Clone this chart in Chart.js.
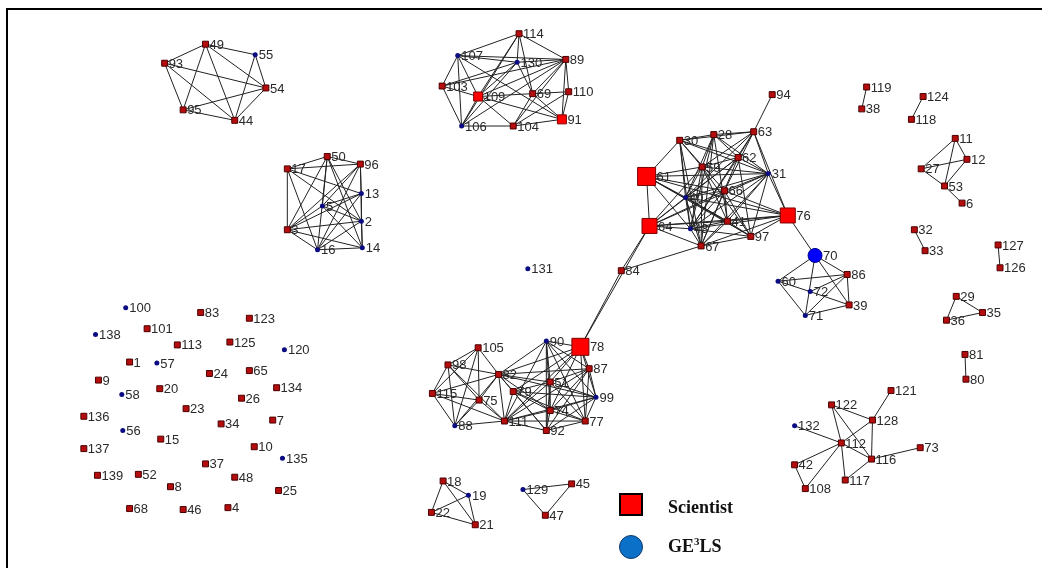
<!DOCTYPE html>
<html>
<head>
<meta charset="utf-8">
<script src="https://cdn.jsdelivr.net/npm/chart.js@4.4.1/dist/chart.umd.min.js"></script>
<style>
  body { margin: 0; background: #fff; width: 1042px; height: 568px; overflow: hidden; position: relative; }
  #frame { position: absolute; left: 6px; top: 8px; width: 1050px; height: 570px; border: 2px solid #000; }
  #net { position: absolute; left: 0; top: 0; }
  .key { position: absolute; left: 668px; font: bold 18px "Liberation Serif", serif; color: #111; }
  .sw { position: absolute; left: 619px; width: 20px; height: 19px; }
</style>
</head>
<body>
<div id="frame"></div>
<canvas id="net" width="1042" height="568"></canvas>
<div class="sw" style="top:493px;background:#ff0000;border:2px solid #000;"></div>
<div class="key" style="top:497px;">Scientist</div>
<div class="sw" style="top:535px;border-radius:50%;background:#0a70c8;border:1px solid #123a6a;width:22px;height:22px;"></div>
<div class="key" style="top:535px;">GE<sup style="font-size:11px">3</sup>LS</div>
<script>
/* ---------- NODES (id, layout x, layout y) ---------- */
const nodeIds = [
  49, 55, 93, 54, 95, 44,
  50, 96, 17, 13, 5, 2, 3, 16, 14,
  114, 107, 130, 89, 103, 109, 69, 110, 106, 104, 91,
  94, 63, 28, 30, 62, 59, 61, 31, 66, 40, 76, 41, 64, 43, 97, 67, 84, 131,
  70, 86, 60, 72, 39, 71,
  90, 78, 105, 98, 87, 82, 51, 79, 115, 75, 99, 74, 111, 77, 88, 92,
  121, 122, 128, 132, 112, 73, 116, 42, 117, 108,
  119, 38, 124, 118, 11, 12, 27, 53, 6, 32, 33, 127, 126, 29, 35, 36, 81, 80,
  18, 19, 22, 21, 129, 45, 47,
  100, 83, 123, 138, 101, 113, 125, 120, 1, 57, 24, 65, 9, 58, 20, 134, 26, 23,
  136, 56, 34, 7, 15, 137, 10, 135, 37, 139, 52, 48, 8, 25, 68, 46, 4
];
const nodeX = [
  197, 248, 155, 259, 174, 227,
  322, 356, 281, 357, 317, 357, 281, 312, 358,
  519, 456, 517, 567, 440, 477, 533, 570, 460, 513, 563,
  779, 760, 719, 684, 744, 707, 650, 775, 730, 690, 795, 733, 653, 695, 757, 706, 624, 528,
  823, 856, 785, 818, 858, 813,
  547, 582, 477, 446, 591, 498, 551, 513, 430, 478, 598, 551, 504, 587, 453, 547,
  901, 840, 882, 802, 850, 931, 881, 802, 854, 813,
  876, 871, 934, 922, 967, 979, 932, 956, 974, 925, 936, 1011, 1013, 968, 995, 958, 977, 978,
  441, 467, 429, 474, 523, 573, 546,
  115, 192, 242, 84, 137, 168, 222, 278, 119, 147, 201, 242, 87, 111, 150, 270, 234, 177,
  72, 112, 213, 266, 151, 72, 247, 276, 197, 86, 128, 227, 161, 272, 119, 174, 220
];
const nodeY = [
  32, 43, 52, 78, 101, 112,
  150, 158, 163, 189, 202, 218, 227, 248, 246,
  21, 44, 51, 48, 76, 87, 84, 82, 118, 118, 111,
  85, 124, 127, 133, 151, 161, 171, 168, 186, 193, 212, 218, 223, 226, 234, 244, 270, 268,
  254, 274, 281, 292, 306, 317,
  344, 350, 351, 369, 373, 379, 387, 397, 399, 406, 403, 417, 428, 428, 433, 438,
  396, 411, 427, 433, 451, 456, 468, 474, 490, 499,
  77, 100, 87, 111, 131, 153, 163, 181, 199, 227, 249, 243, 267, 297, 314, 322, 358, 384,
  491, 506, 524, 537, 500, 494, 527,
  309, 314, 320, 337, 331, 348, 345, 353, 366, 367, 378, 375, 385, 400, 394, 393, 404, 415,
  423, 438, 431, 427, 447, 457, 455, 467, 473, 485, 484, 487, 497, 501, 520, 521, 519
];

/* GE3LS members (blue), scientists (big red), GE3LS lead (big blue) */
const ge3lsIds = [55, 13, 5, 2, 16, 14, 107, 130, 106, 31, 40, 43, 60, 72, 71, 90, 99, 88,
  132, 19, 129, 131, 100, 138, 120, 57, 58, 56, 135];
const scientistIds = [61, 64, 76, 78];
const leadIds = [109, 91];
const ge3lsLeadIds = [70];

/* ---------- TIES ---------- */
const ties = [
  "49-93", "49-55", "49-95", "49-44", "49-54", "93-54", "93-95", "93-44", "55-54", "55-44", "95-54", "95-44", "44-54",
  "17-50", "50-96", "17-96", "17-3", "17-13", "17-2", "17-16", "50-5", "50-3", "50-2", "50-14", "50-16",
  "96-13", "96-3", "96-5", "96-16", "96-14", "13-5", "13-3", "13-16", "13-2", "5-2", "5-14", "5-3",
  "3-2", "3-16", "3-14", "16-14", "2-16", "2-14",
  "114-107", "114-130", "114-89", "114-109", "114-106", "114-69", "107-130", "107-89", "107-103", "107-109",
  "107-106", "107-91", "130-89", "130-109", "130-106", "130-103", "130-69", "89-109", "89-103", "89-69",
  "89-110", "89-91", "89-104", "89-106", "103-109", "103-106", "109-69", "109-104", "109-91", "109-106",
  "69-91", "69-104", "110-91", "110-104", "106-104", "104-91", "69-110",
  "94-63", "63-28", "63-30", "63-62", "63-59", "63-31", "63-76", "63-40", "63-43", "63-66",
  "28-30", "28-62", "28-59", "28-40", "28-43", "28-31", "28-41", "28-67",
  "30-59", "30-61", "30-43", "30-67", "30-66", "30-31", "30-62", "30-40",
  "62-59", "62-31", "62-43", "62-67", "62-97", "62-40", "62-64",
  "59-61", "59-31", "59-40", "59-43", "59-64", "59-97", "59-67", "59-41",
  "61-31", "61-40", "61-66", "61-64", "61-41", "61-76", "61-43", "61-97",
  "31-66", "31-40", "31-43", "31-76", "31-97", "31-67", "31-41", "31-64",
  "66-40", "66-43", "66-76", "66-41", "66-67", "66-64", "66-97",
  "40-43", "40-76", "40-41", "40-64", "40-97", "40-67",
  "76-41", "76-97", "76-43", "76-67", "76-64", "76-70",
  "41-43", "41-97", "41-67", "41-64", "64-43", "64-67", "64-84", "64-78",
  "43-67", "43-97", "97-67", "67-84", "84-78",
  "70-60", "70-86", "70-71", "70-39", "60-86", "60-72", "60-71", "72-86", "72-39", "71-86", "71-39", "86-39",
  "105-98", "105-82", "105-75", "105-115", "105-88", "98-115", "98-82", "98-75", "98-88", "98-111",
  "115-75", "115-88", "115-111", "115-82", "82-75", "82-88", "82-111", "82-79", "82-51", "82-99",
  "82-87", "82-78", "82-90", "82-74", "82-92", "75-111", "75-88", "88-111",
  "79-111", "79-51", "79-74", "79-99", "79-77", "79-92", "79-78",
  "90-78", "90-51", "90-74", "90-92", "90-111", "90-87", "90-99", "90-77",
  "78-51", "78-87", "78-99", "78-77", "78-74", "78-111",
  "87-51", "87-99", "87-77", "87-74", "87-111", "87-92",
  "51-99", "51-74", "51-111", "51-77", "51-92", "99-74", "99-77", "99-111", "99-92",
  "74-111", "74-77", "74-92", "111-77", "111-92", "92-77",
  "121-128", "122-128", "122-112", "122-116", "128-112", "128-116", "112-116", "112-117",
  "112-42", "112-108", "132-112", "116-73", "116-117", "42-108",
  "119-38", "124-118", "11-27", "11-12", "11-53", "27-12", "27-53", "12-53", "53-6",
  "32-33", "127-126", "29-36", "29-35", "36-35", "81-80",
  "18-22", "18-19", "18-21", "19-21", "19-22", "22-21", "129-45", "129-47", "45-47"
];

/* ---------- STYLE ---------- */
const bigSide = { 61: 18, 64: 15, 76: 15, 78: 17, 109: 9, 91: 9 };

function pointsFor(ids) {
  return nodeIds.map((id, i) => ({ x: nodeX[i], y: nodeY[i], id: id }))
    .filter(p => ids(p.id));
}

const isBlue = id => ge3lsIds.includes(id) || ge3lsLeadIds.includes(id);
const isBig = id => scientistIds.includes(id) || leadIds.includes(id);

/* draws the ties under the nodes, through the scales */
const tiesPlugin = {
  id: "ties",
  beforeDatasetsDraw(chart) {
    const { ctx, scales: { x, y } } = chart;
    ctx.save();
    ctx.strokeStyle = "#222";
    ctx.lineWidth = 1;
    ties.forEach(t => {
      const [a, b] = t.split("-").map(Number);
      const i = nodeIds.indexOf(a), j = nodeIds.indexOf(b);
      if (i < 0 || j < 0) return;
      ctx.beginPath();
      ctx.moveTo(x.getPixelForValue(nodeX[i]), y.getPixelForValue(nodeY[i]));
      ctx.lineTo(x.getPixelForValue(nodeX[j]), y.getPixelForValue(nodeY[j]));
      ctx.stroke();
    });
    ctx.restore();
  }
};

/* node labels to the right of each marker */
const labelPlugin = {
  id: "labels",
  afterDatasetsDraw(chart) {
    const { ctx, scales: { x, y } } = chart;
    ctx.save();
    ctx.font = '13px "Liberation Sans", sans-serif';
    ctx.fillStyle = "#2a2a2a";
    ctx.textBaseline = "middle";
    nodeIds.forEach((id, i) => {
      let half = 3;
      if (bigSide[id]) half = bigSide[id] / 2;
      if (ge3lsLeadIds.includes(id)) half = 7;
      else if (isBlue(id)) half = 2.5;
      ctx.fillText(String(id), x.getPixelForValue(nodeX[i]) + half + 1, y.getPixelForValue(nodeY[i]) + 1);
    });
    ctx.restore();
  }
};

new Chart(document.getElementById("net"), {
  type: "scatter",
  data: {
    datasets: [
      {
        data: pointsFor(id => !isBlue(id) && !isBig(id)),
        pointStyle: "rect", pointRadius: 4.2, backgroundColor: "#b50d0d",
        borderColor: "#4a0000", borderWidth: 1
      },
      {
        data: pointsFor(id => isBig(id)),
        pointStyle: "rect",
        pointRadius: ctx => (bigSide[ctx.raw.id] || 6) / Math.SQRT2,
        backgroundColor: "#ff0000", borderColor: "#7a0000", borderWidth: 1
      },
      {
        data: pointsFor(id => ge3lsIds.includes(id)),
        pointStyle: "circle", pointRadius: 2.5, backgroundColor: "#0c0c82",
        borderColor: "#0c0c82", borderWidth: 0
      },
      {
        data: pointsFor(id => ge3lsLeadIds.includes(id)),
        pointStyle: "circle", pointRadius: 7, backgroundColor: "#0000ff",
        borderColor: "#00008a", borderWidth: 1
      }
    ]
  },
  options: {
    responsive: false,
    animation: false,
    layout: { padding: 0 },
    plugins: { legend: { display: false }, tooltip: { enabled: false } },
    scales: {
      x: { type: "linear", min: 0, max: 1042, display: false },
      y: { type: "linear", min: 0, max: 568, reverse: true, display: false }
    }
  },
  plugins: [tiesPlugin, labelPlugin]
});
</script>
</body>
</html>
